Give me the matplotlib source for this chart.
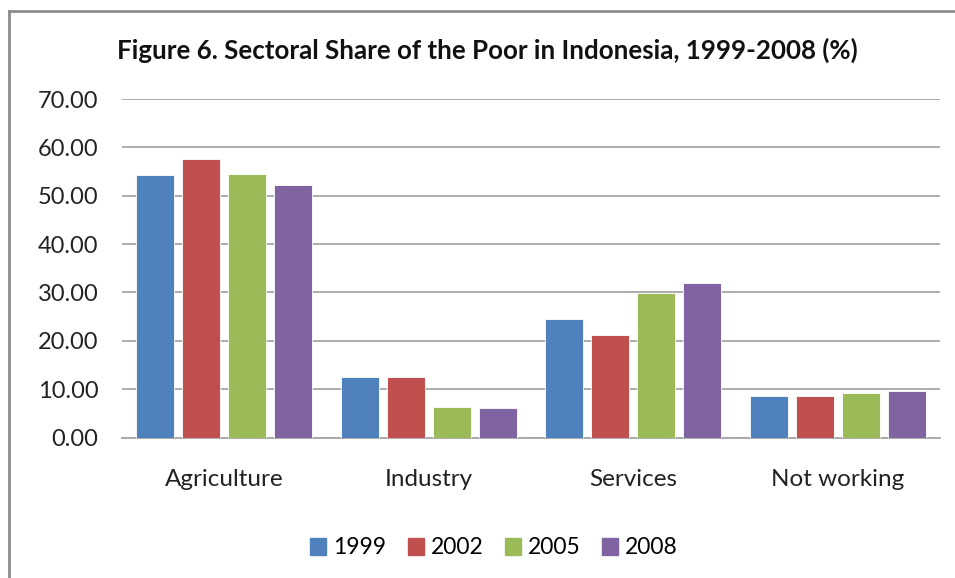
import matplotlib
matplotlib.use("Agg")
import matplotlib.pyplot as plt
import numpy as np
from matplotlib.lines import Line2D

categories = ["Agriculture", "Industry", "Services", "Not working"]
years = ["1999", "2002", "2005", "2008"]
share_1999 = [54.2, 12.5, 24.6, 8.5]
share_2002 = [57.5, 12.5, 21.2, 8.5]
share_2005 = [54.4, 6.3, 29.9, 9.3]
share_2008 = [52.3, 6.0, 31.9, 9.6]
yticks = [0, 10, 20, 30, 40, 50, 60, 70]

colors = ["#4F81BD", "#C0504D", "#9BBB59", "#8064A2"]
series = [share_1999, share_2002, share_2005, share_2008]

plt.rcParams["font.family"] = ["Lato", "DejaVu Sans"]

fig = plt.figure(figsize=(9.55, 5.78), dpi=100)
ax = fig.add_axes([122 / 955, 1 - 437.5 / 578, 818 / 955, 338.5 / 578])

x = np.arange(len(categories))
step = 0.225
width = 0.186
for i, (vals, col, yr) in enumerate(zip(series, colors, years)):
    ax.bar(x + (i - 1.5) * step, vals, width, color=col, label=yr,
           edgecolor="white", linewidth=0.6, zorder=3)

ax.set_xlim(-0.5, len(categories) - 0.5)
ax.set_ylim(0, 70)
ax.set_yticks(yticks)
ax.set_yticklabels([f"{v:.2f}" for v in yticks], fontsize=17, color="#222222")
ax.set_xticks(x)
ax.set_xticklabels(categories, fontsize=17.5, color="#222222")
ax.tick_params(axis="both", length=0)
ax.tick_params(axis="y", pad=17)
ax.tick_params(axis="x", pad=23)
ax.grid(axis="y", color="#a6a6a6", linewidth=1.3, zorder=0)
for s in ["top", "right", "left"]:
    ax.spines[s].set_visible(False)
ax.spines["bottom"].set_color("#a6a6a6")
ax.spines["bottom"].set_linewidth(1.3)

fig.text(487 / 955, 1 - 50 / 578, "Figure 6. Sectoral Share of the Poor in Indonesia, 1999-2008 (%)",
         ha="center", va="center", fontsize=18.6, fontweight="bold", color="#111111")

handles = [plt.Rectangle((0, 0), 1, 1, color=c) for c in colors]
fig.legend(handles, years, loc="center", bbox_to_anchor=(494 / 955, 1 - 548 / 578),
           ncol=4, frameon=False, fontsize=16.5, handlelength=0.7, handleheight=0.7,
           handletextpad=0.3, columnspacing=0.95)

# outer chart border (top and left edges visible)
fig.add_artist(Line2D([8.5 / 955, 8.5 / 955], [0, 1 - 11 / 578], transform=fig.transFigure,
                      color="#8c8c8c", linewidth=2))
fig.add_artist(Line2D([8.5 / 955, 1], [1 - 11 / 578, 1 - 11 / 578], transform=fig.transFigure,
                      color="#8c8c8c", linewidth=2))

fig.savefig("out.png", dpi=100)
